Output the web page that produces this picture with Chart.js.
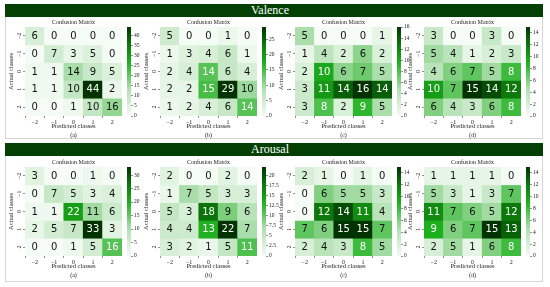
<!DOCTYPE html>
<html>
<head>
<meta charset="utf-8">
<script src="https://cdn.jsdelivr.net/npm/chart.js@4.4.0/dist/chart.umd.min.js"></script>
<style>
body { margin: 0; width: 550px; height: 287px; background: #fff; position: relative; overflow: hidden; font-family: "Liberation Serif", serif; }
.frame { position: absolute; left: 5px; width: 538px; border: 1px solid #d6d6d6; box-sizing: border-box; }
.band { position: absolute; left: 5px; width: 538px; height: 13px; background: #043f04; color: #fff; font-size: 12px; line-height: 13px; }
.band span { position: absolute; left: 265px; transform: translateX(-50%); }
.lbl { position: absolute; font-size: 6px; line-height: 7px; transform: translateX(-50%); white-space: nowrap; color: #222; }
canvas { position: absolute; }
</style>
</head>
<body>
<div class="frame" style="top:4px;height:135px"></div>
<div class="frame" style="top:143px;height:139px"></div>
<div class="band" style="top:4px"><span>Valence</span></div>
<div class="band" style="top:143px"><span>Arousal</span></div>
<script>
const classLabels = ['−2', '−1', '0', '1', '2'];
const panelTags = ['(a)', '(b)', '(c)', '(d)'];

// rows = actual class (−2 .. 2), columns = predicted class (−2 .. 2)
const valenceA = [[6, 0, 0, 0, 0], [0, 7, 3, 5, 0], [1, 1, 14, 9, 5], [1, 1, 10, 44, 2], [0, 0, 1, 10, 16]];
const valenceB = [[5, 0, 0, 1, 0], [1, 3, 4, 6, 1], [2, 4, 14, 6, 4], [2, 2, 15, 29, 10], [1, 2, 4, 6, 14]];
const valenceC = [[5, 0, 0, 0, 1], [1, 4, 2, 6, 2], [2, 10, 6, 7, 5], [3, 11, 14, 16, 14], [3, 8, 2, 9, 5]];
const valenceD = [[3, 0, 0, 3, 0], [5, 4, 1, 2, 3], [4, 6, 7, 5, 8], [10, 7, 15, 14, 12], [6, 4, 3, 6, 8]];

const arousalA = [[3, 0, 0, 1, 0], [0, 7, 5, 3, 4], [1, 1, 22, 11, 6], [2, 5, 7, 33, 3], [0, 0, 1, 5, 16]];
const arousalB = [[2, 0, 0, 2, 0], [1, 7, 5, 3, 3], [5, 3, 18, 9, 6], [4, 4, 13, 22, 7], [3, 2, 1, 5, 11]];
const arousalC = [[2, 1, 0, 1, 0], [0, 6, 5, 5, 3], [0, 12, 14, 11, 4], [7, 6, 15, 15, 7], [2, 4, 3, 8, 5]];
const arousalD = [[1, 1, 1, 1, 0], [5, 3, 1, 3, 7], [11, 7, 6, 5, 12], [9, 6, 7, 15, 13], [2, 5, 1, 6, 8]];

// colorbar tick spacing per panel
const valenceSteps = [5, 5, 2, 2];
const arousalSteps = [5, 2.5, 2, 2];

const rows = [
    { top: 27, sets: [valenceA, valenceB, valenceC, valenceD], steps: valenceSteps },
    { top: 167, sets: [arousalA, arousalB, arousalC, arousalD], steps: arousalSteps }
];
const panelLefts = [25, 160, 295, 424];
const W = 97, H = 89;
const YW = 17, XH = 14, PT = 4;

const serif = 'Liberation Serif';
const cmapStops = [
    [0, [245, 251, 245]],
    [0.3, [178, 224, 178]],
    [0.6, [28, 176, 28]],
    [0.8, [11, 122, 11]],
    [1, [0, 51, 0]]
];

function cmap(t) {
    t = Math.max(0, Math.min(1, t));
    for (let i = 1; i < cmapStops.length; i++) {
        const [p1, c1] = cmapStops[i];
        const [p0, c0] = cmapStops[i - 1];
        if (t <= p1) {
            const f = (t - p0) / (p1 - p0);
            const c = c0.map((v, k) => Math.round(v + (c1[k] - v) * f));
            return `rgb(${c[0]},${c[1]},${c[2]})`;
        }
    }
    return 'rgb(0,51,0)';
}

// Write the counts into each cell
const cellText = {
    id: 'cellText',
    afterDatasetsDraw(chart) {
        const ctx = chart.ctx;
        ctx.save();
        ctx.font = '10px "DejaVu Sans"';
        ctx.textAlign = 'center';
        ctx.textBaseline = 'middle';
        chart.data.datasets.forEach((ds, i) => {
            chart.getDatasetMeta(i).data.forEach((bar, j) => {
                const v = ds.counts[j];
                ctx.fillStyle = v / ds.maxCount > 0.475 ? '#ffffff' : '#111111';
                ctx.fillText(String(v), bar.x, (bar.y + bar.base) / 2 + 0.5);
            });
        });
        ctx.restore();
    }
};

function addCanvas(left, top, width, height) {
    const canvas = document.createElement('canvas');
    canvas.width = width;
    canvas.height = height;
    canvas.style.left = left + 'px';
    canvas.style.top = top + 'px';
    document.body.appendChild(canvas);
    return canvas;
}

function addLabel(text, cx, top) {
    const div = document.createElement('div');
    div.className = 'lbl';
    div.textContent = text;
    div.style.left = cx + 'px';
    div.style.top = top + 'px';
    document.body.appendChild(div);
}

function makeHeatmap(matrix, left, top) {
    const canvas = addCanvas(left - YW, top - PT, YW + W, PT + H + XH);
    const maxCount = Math.max(...matrix.flat());

    const datasets = matrix.map((row, r) => ({
        label: classLabels[r],
        data: row.map(() => 1),
        counts: row,
        maxCount,
        backgroundColor: row.map(v => cmap(v / maxCount)),
        borderWidth: 0,
        barPercentage: 1,
        categoryPercentage: 1
    }));

    const tickFont = { family: serif, size: 6, lineHeight: 1 };

    new Chart(canvas.getContext('2d'), {
        type: 'bar',
        data: { labels: classLabels, datasets },
        options: {
            responsive: false,
            animation: false,
            devicePixelRatio: 1,
            layout: { padding: { top: PT, right: 0, bottom: 0, left: 0 } },
            plugins: { legend: { display: false }, tooltip: { enabled: false } },
            scales: {
                x: {
                    stacked: true,
                    grid: { drawOnChartArea: false, tickLength: 2, color: '#444', lineWidth: 0.6 },
                    border: { display: false },
                    ticks: { font: tickFont, color: '#222', padding: 1, maxRotation: 0 },
                    title: { display: true, text: 'Predicted classes', font: { family: serif, size: 6.5, lineHeight: 1 }, color: '#222', padding: 0 },
                    afterFit: s => { s.height = XH; }
                },
                y: {
                    stacked: true,
                    reverse: true,
                    min: 0,
                    max: 5,
                    afterBuildTicks: s => { s.ticks = classLabels.map((_, i) => ({ value: i + 0.5 })); },
                    grid: { drawOnChartArea: false, tickLength: 2, color: '#444', lineWidth: 0.6 },
                    border: { display: false },
                    ticks: {
                        callback: (v, i) => classLabels[i],
                        font: tickFont, color: '#222', padding: 0.5,
                        minRotation: 90, maxRotation: 90, crossAlign: 'center'
                    },
                    title: { display: true, text: 'Actual classes', font: { family: serif, size: 6.5, lineHeight: 1 }, color: '#222', padding: 0 },
                    afterFit: s => { s.width = YW; }
                }
            }
        },
        plugins: [cellText]
    });
    return maxCount;
}

function makeColorbar(maxCount, step, left, top) {
    const canvas = addCanvas(left + W + 5, top - 4, 4 + 16, H + 8);
    new Chart(canvas.getContext('2d'), {
        type: 'bar',
        data: {
            labels: ['scale'],
            datasets: [{
                data: [[0, maxCount]],
                borderWidth: 0,
                barPercentage: 1,
                categoryPercentage: 1,
                backgroundColor: c => {
                    const area = c.chart.chartArea;
                    if (!area) return '#fff';
                    const g = c.chart.ctx.createLinearGradient(0, area.bottom, 0, area.top);
                    cmapStops.forEach(([p]) => g.addColorStop(p, cmap(p)));
                    return g;
                }
            }]
        },
        options: {
            responsive: false,
            animation: false,
            devicePixelRatio: 1,
            layout: { padding: { top: 4, bottom: 4, left: 0, right: 0 } },
            plugins: { legend: { display: false }, tooltip: { enabled: false } },
            scales: {
                x: { display: false },
                y: {
                    position: 'right',
                    min: 0,
                    max: maxCount,
                    afterBuildTicks: s => {
                        const t = [];
                        for (let v = 0; v <= maxCount + 1e-9; v += step) t.push({ value: v });
                        s.ticks = t;
                    },
                    grid: { drawOnChartArea: false, tickLength: 2, color: '#444', lineWidth: 0.6 },
                    border: { display: false },
                    ticks: { font: { family: serif, size: 5.5, lineHeight: 1 }, color: '#222', padding: 1 },
                    afterFit: s => { s.width = 16; }
                }
            }
        }
    });
}

rows.forEach(row => {
    row.sets.forEach((matrix, p) => {
        const left = panelLefts[p];
        const maxCount = makeHeatmap(matrix, left, row.top);
        makeColorbar(maxCount, row.steps[p], left, row.top);
        addLabel('Confusion Matrix', left + W / 2, row.top - 8);
        addLabel(panelTags[p], left + W / 2, row.top + H + 15.5);
    });
});
</script>
</body>
</html>
